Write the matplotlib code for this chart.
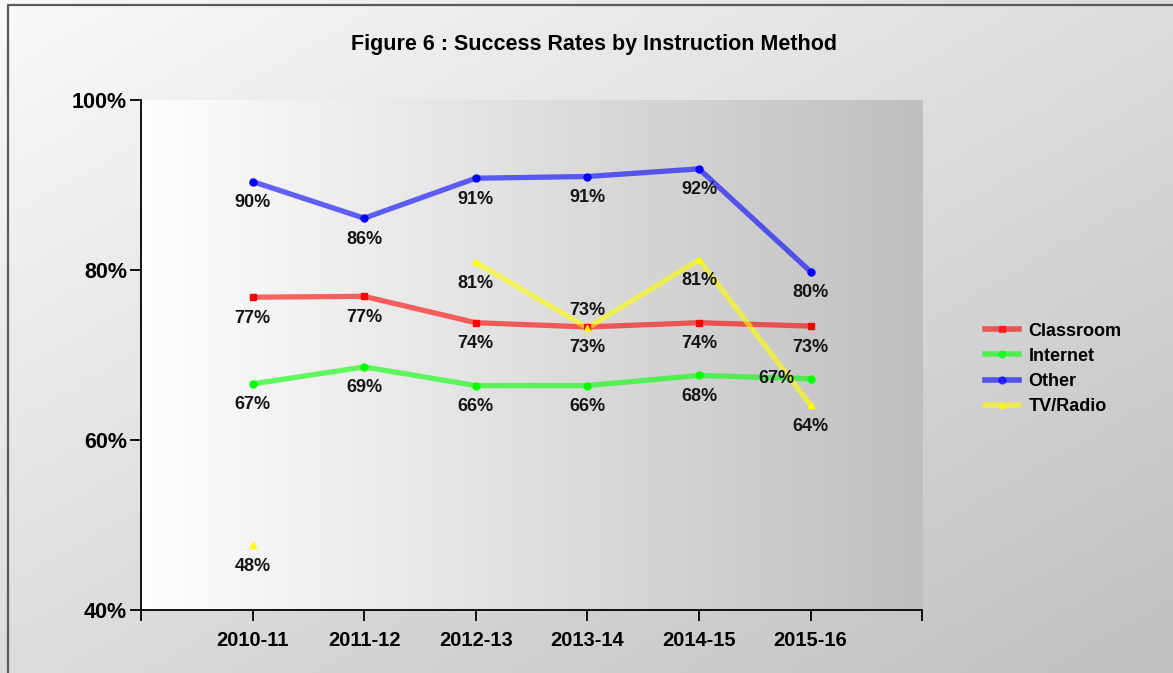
import matplotlib

matplotlib.use("Agg")
import matplotlib.pyplot as plt
import numpy as np
from matplotlib.colors import LinearSegmentedColormap
from matplotlib.ticker import FuncFormatter

plt.rcParams["font.family"] = ["Liberation Sans", "DejaVu Sans"]

years = ["2010-11", "2011-12", "2012-13", "2013-14", "2014-15", "2015-16"]
classroom = [76.8, 76.9, 73.8, 73.3, 73.8, 73.4]
internet = [66.6, 68.6, 66.4, 66.4, 67.6, 67.2]
other = [90.4, 86.1, 90.8, 91.0, 91.9, 79.8]
tv_radio = [47.6, np.nan, 80.9, 73.2, 81.2, 64.1]

series = [
    ("Classroom", classroom, "#ff0000", "s"),
    ("Internet", internet, "#00ff00", "o"),
    ("Other", other, "#0000ff", "o"),
    ("TV/Radio", tv_radio, "#ffff00", "^"),
]

fig_cmap = LinearSegmentedColormap.from_list("figbg", ["#f9f9f9", "#c0c0c0"])
plot_cmap = LinearSegmentedColormap.from_list("plotbg", ["#fefefe", "#bfbfbf"])

fig = plt.figure(figsize=(11.73, 6.73), dpi=100)

# figure background: diagonal light-to-grey gradient, top/left border only
bg = fig.add_axes([0, 0, 1, 1], zorder=-10)
gx, gy = np.meshgrid(np.linspace(0, 1, 200), np.linspace(0, 1, 120))
bg.imshow(0.5 * gx + 0.5 * gy, cmap=fig_cmap, vmin=0, vmax=1, aspect="auto",
          extent=[0, 1, 0, 1], origin="upper")
bg.plot([0.0065, 0.0065, 1.0], [0.0, 0.992, 0.992], color="#5a5a5a", linewidth=1.6)
bg.set_xlim(0, 1)
bg.set_ylim(0, 1)
bg.axis("off")

ax = fig.add_axes([0.1202, 0.0936, 0.666, 0.7578])
ax.patch.set_alpha(0)
x = np.arange(len(years))

# plot area: horizontal white-to-grey gradient
ax.imshow(np.linspace(0, 1, 256).reshape(1, -1), cmap=plot_cmap, vmin=0, vmax=1,
          aspect="auto", extent=[-1, 6, 40, 100], zorder=0)

for name, vals, color, marker in series:
    vals = np.array(vals, dtype=float)
    ax.plot(x, vals, color=color, alpha=0.6, linewidth=3.8, zorder=2)
    ax.plot(x, vals, linestyle="none", marker=marker, markersize=5,
            color=color, zorder=3)

handles = [plt.Line2D([], [], color=c, alpha=0.6, linewidth=4, marker=m,
                      markersize=5, markerfacecolor=c, markeredgecolor=c)
           for _, _, c, m in series]

# data labels, mostly below the point
for name, vals, color, marker in series:
    for i, v in enumerate(vals):
        if np.isnan(v):
            continue
        dx, dy = 0, -21
        if name == "Internet" and i == 5:
            dx, dy = -34, 0
        if name == "TV/Radio" and i == 3:
            dy = 17
        ax.annotate(f"{v:.0f}%", (i, v), textcoords="offset points",
                    xytext=(dx * 0.72, dy * 0.72), ha="center", va="center",
                    fontsize=13, fontweight="bold", color="#151515", zorder=4)

ax.set_xlim(-1, 6)
ax.set_ylim(40, 100)
ax.set_xticks(np.arange(-1, 7))
ax.set_xticklabels([""] + years + [""])
ax.set_yticks([40, 60, 80, 100])
ax.yaxis.set_major_formatter(FuncFormatter(lambda v, _: f"{v:.0f}%"))
for lab in ax.get_xticklabels():
    lab.set_fontweight("bold")
    lab.set_fontsize(14.5)
for lab in ax.get_yticklabels():
    lab.set_fontweight("bold")
    lab.set_fontsize(15.5)
ax.tick_params(axis="both", length=8, width=1.3, direction="out", pad=2)
ax.tick_params(axis="x", pad=7)
ax.spines["top"].set_visible(False)
ax.spines["right"].set_visible(False)
ax.spines["left"].set_linewidth(1.3)
ax.spines["bottom"].set_linewidth(1.3)

fig.text(0.506, 0.934, "Figure 6 : Success Rates by Instruction Method",
         ha="center", va="center", fontsize=15.5, fontweight="bold")

fig.legend(handles, [s[0] for s in series], loc="center left",
           bbox_to_anchor=(0.826, 0.452), frameon=False,
           handlelength=1.9, handletextpad=0.5, labelspacing=0.45,
           prop={"weight": "bold", "size": 13})

fig.savefig("out.png", dpi=100)
